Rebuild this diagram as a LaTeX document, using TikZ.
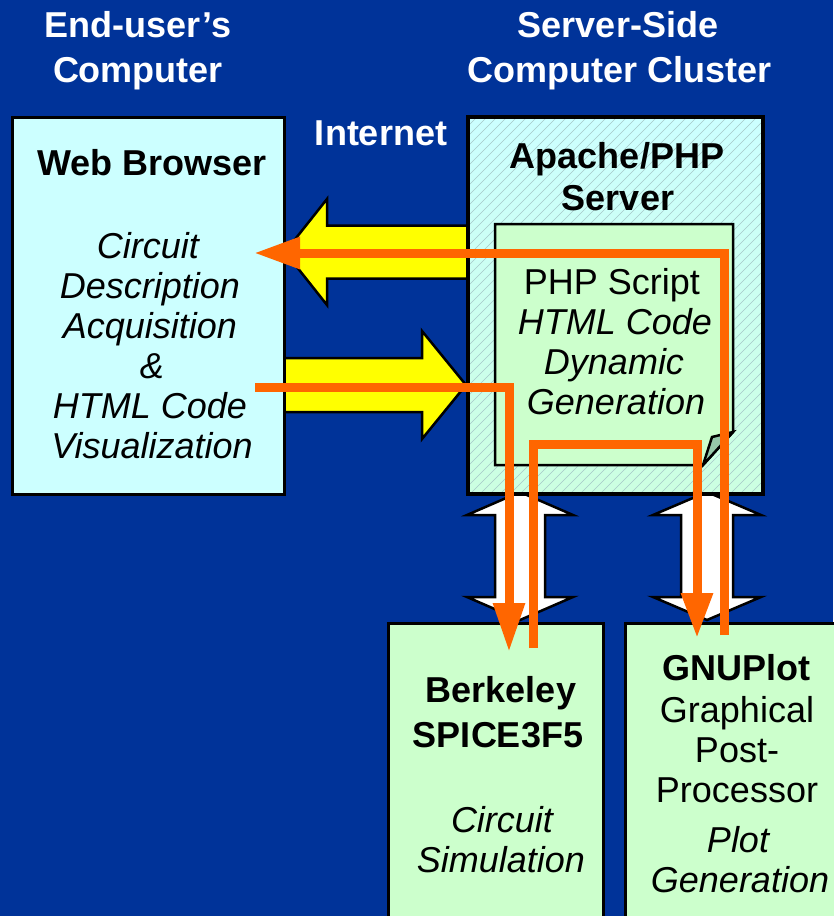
\documentclass[tikz,border=0pt]{standalone}
\usepackage{fontspec}
\setmainfont{Liberation Sans}
\usetikzlibrary{arrows.meta}
\definecolor{bgblue}{RGB}{0,51,153}
\definecolor{cyanbox}{RGB}{204,255,255}
\definecolor{greenbox}{RGB}{204,255,204}
\definecolor{servertop}{RGB}{204,255,255}
\definecolor{serverbot}{RGB}{204,255,225}
\definecolor{hatch}{RGB}{165,200,200}
\definecolor{foldgreen}{RGB}{150,200,170}
\definecolor{flowor}{RGB}{255,102,0}
\definecolor{yel}{RGB}{255,255,0}
\begin{document}
\begin{tikzpicture}[x=1pt,y=-1pt,
  box/.style={draw=black, line width=3pt, inner sep=0pt},
  lbl/.style={font=\fontsize{36}{40}\selectfont, inner sep=0pt, anchor=base},
  blbl/.style={lbl, font=\fontsize{36}{40}\selectfont\bfseries},
  ilbl/.style={lbl, font=\fontsize{36}{40}\selectfont\itshape},
  hdr/.style={blbl, text=white},
  blockarrow/.style={draw=black, line width=2.5pt, line join=miter},
  flow/.style={draw=flowor, line width=9pt, line join=miter},
  hatchline/.style={draw=hatch, line width=0.6pt}
]
\useasboundingbox (0,0) rectangle (833,916);
\fill[bgblue] (0,0) rectangle (833,916);

% headers
\node[hdr] (h1) at (138,37) {End-user’s};
\node[hdr] (h2) at (138,82) {Computer};
\node[hdr] (h3) at (618,37) {Server-Side};
\node[hdr] (h4) at (620,82) {Computer Cluster};
\node[hdr] (inet) at (381,145) {Internet};

% white double arrows
\draw[blockarrow, fill=white] (520,492) -- (573,515) -- (545,515) -- (545,597) -- (573,597)
  -- (520,620) -- (467,597) -- (495,597) -- (495,515) -- (467,515) -- cycle;
\draw[blockarrow, fill=white] (707,492) -- (761,515) -- (733,515) -- (733,597) -- (761,597)
  -- (707,620) -- (653,597) -- (681,597) -- (681,515) -- (653,515) -- cycle;

% yellow arrows
\draw[blockarrow, fill=yel] (468,225.5) -- (327,225.5) -- (327,199) -- (285,252) -- (327,305)
  -- (327,278.5) -- (468,278.5);
\draw[blockarrow, fill=yel] (280,358) -- (422,358) -- (422,331) -- (466,385) -- (422,439)
  -- (422,412) -- (280,412) -- cycle;

% browser box
\node[box, fill=cyanbox, minimum width=272pt, minimum height=377pt] (browser) at (148,305.5) {};
\node[blbl] (bw0) at (152,175) {Web Browser};
\node[ilbl] (bw1) at (148,258) {Circuit};
\node[ilbl] (bw2) at (150,298) {Description};
\node[ilbl] (bw3) at (150,338) {Acquisition};
\node[ilbl] (bw4) at (152,378) {\&};
\node[ilbl] (bw5) at (150,418) {HTML Code};
\node[ilbl] (bw6) at (152,458) {Visualization};

% server box
\node[minimum width=295pt, minimum height=377pt, inner sep=0pt,
  top color=servertop, bottom color=serverbot] (server) at (615.5,305.5) {};
\begin{scope}
  \clip (server.north west) rectangle (server.south east);
  \foreach \i in {90,100,...,770} {
    \draw[hatchline] (\i,494) -- ++(377,-377);
  }
\end{scope}
\draw[line width=3.5pt] (server.north west) rectangle (server.south east);
\node[blbl] (sv1) at (617,168) {Apache/PHP};
\node[blbl] (sv2) at (618,210) {Server};

% PHP script box with folded corner
\draw[line width=2.5pt, fill=greenbox, line join=miter] (495,224) -- (733,224) -- (733,432)
  -- (703,465) -- (495,465) -- cycle;
\draw[line width=2.5pt, fill=foldgreen, line join=miter] (733,432) -- (712,437) -- (703,465) -- cycle;
\coordinate (php) at (614,344);
\node[lbl] (ph1) at (612,294) {PHP Script};
\node[ilbl] (ph2) at (615,334) {HTML Code};
\node[ilbl] (ph3) at (614,374) {Dynamic};
\node[ilbl] (ph4) at (616,414) {Generation};

% bottom boxes
\node[box, fill=greenbox, minimum width=215pt, minimum height=327pt] (spice) at (495.5,786.5) {};
\node[blbl] (sp1) at (501,702) {Berkeley};
\node[blbl] (sp2) at (498,747) {SPICE3F5};
\node[ilbl] (sp3) at (502,832) {Circuit};
\node[ilbl] (sp4) at (501,872) {Simulation};

\node[box, fill=greenbox, minimum width=235pt, minimum height=327pt] (gnu) at (742.5,786.5) {};
\node[blbl] (gn1) at (736,680) {GNUPlot};
\node[lbl] (gn2) at (737,722) {Graphical};
\node[lbl] (gn3) at (737,762) {Post-};
\node[lbl] (gn4) at (737,802) {Processor};
\node[ilbl] (gn5) at (738,852) {Plot};
\node[ilbl] (gn6) at (740,892) {Generation};

% orange flow lines
\coordinate (f1s) at (724,635);
\coordinate (f1a) at (724,253);
\coordinate (f1e) at (254,253);
\draw[flow, -{Triangle[length=46pt,width=30pt]}] (f1s) -- (f1a) -- (f1e);

\coordinate (f2s) at (255,387);
\coordinate (f2a) at (509,387);
\coordinate (f2e) at (509,652);
\draw[flow, -{Triangle[length=49pt,width=30pt]}] (f2s) -- (f2a) -- (f2e);

\coordinate (f3s) at (533,648);
\coordinate (f3a) at (533,444);
\coordinate (f3b) at (697,444);
\coordinate (f3e) at (697,638);
\draw[flow, -{Triangle[length=45pt,width=30pt]}] (f3s) -- (f3a) -- (f3b) -- (f3e);
\end{tikzpicture}
\end{document}
